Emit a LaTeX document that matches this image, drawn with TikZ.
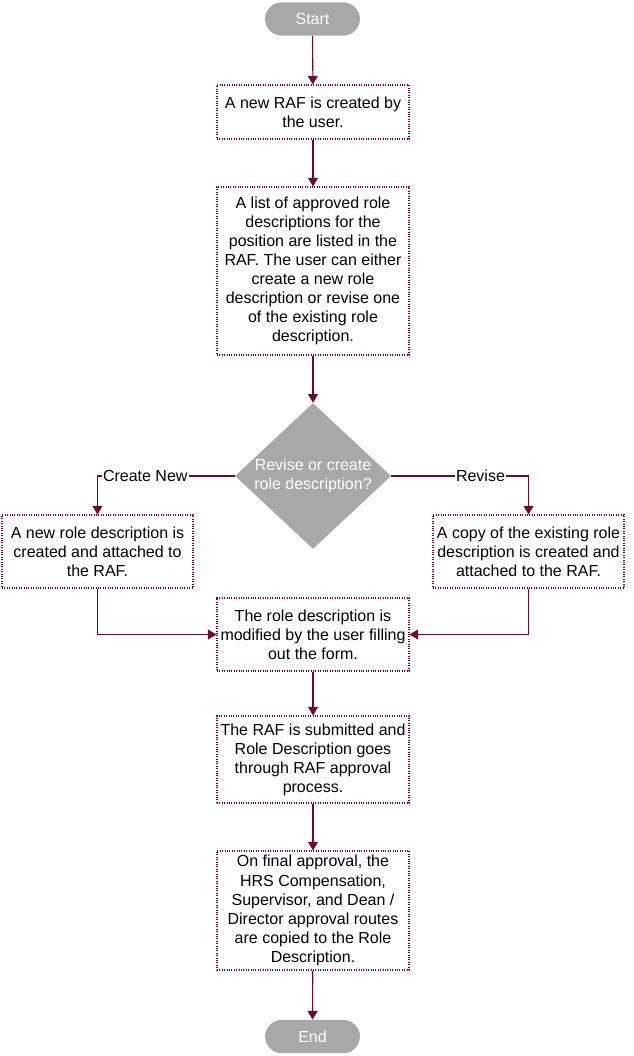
\documentclass[tikz,border=0pt]{standalone}
\usepackage{fontspec}
\setmainfont{Liberation Sans}
\usetikzlibrary{shapes.geometric,arrows.meta}
\definecolor{rafline}{RGB}{110,10,40}
\definecolor{rafgray}{RGB}{168,168,168}
\tikzset{
    terminal/.style={rectangle, rounded corners=12.75pt, fill=rafgray, text=white,
        minimum width=71.25pt, minimum height=25pt, inner sep=0pt},
    process/.style={rectangle, draw=rafline, densely dotted, line width=0.8pt,
        align=center, minimum width=144pt, inner sep=0pt, text=black},
    decision/.style={diamond, fill=rafgray, text=white, align=center,
        minimum width=117pt, minimum height=109.5pt, inner sep=0pt},
    link/.style={draw=rafline, line width=0.8pt, -{Triangle[width=7.5pt,length=6.5pt]}},
    linklabel/.style={fill=white, inner sep=1pt, text=black}
}
\begin{document}
\begin{tikzpicture}[x=0.75pt, y=-0.75pt, font=\fontsize{12}{14.3}\selectfont]
\useasboundingbox (0,0) rectangle (633,1056);

\node[terminal] (start) at (312.5,19) {Start};
\node[process, minimum height=40.5pt] (create) at (313,112)
    {A new RAF is created by\\the user.};
\node[process, minimum height=126pt] (list) at (313,271)
    {A list of approved role\\descriptions for the\\position are listed in the\\RAF. The user can either\\create a new role\\description or revise one\\of the existing role\\description.};
\node[decision] (choice) at (313,476)
    {\makebox[0pt]{Revise or create}\\\makebox[0pt]{role description?}};
\node[process, minimum width=143.25pt, minimum height=54.75pt] (newrole) at (97.5,551.5)
    {A new role description is\\created and attached to\\the RAF.};
\node[process, minimum width=143.25pt, minimum height=54.75pt] (copyrole) at (528.5,551.5)
    {A copy of the existing role\\description is created and\\attached to the RAF.};
\node[process, minimum height=54.75pt] (modify) at (313,634.5)
    {The role description is\\modified by the user filling\\out the form.};
\node[process, minimum height=65.25pt] (submit) at (313,759.5)
    {The RAF is submitted and\\Role Description goes\\through RAF approval\\process.};
\node[process, minimum height=89.25pt] (approve) at (313,910.5)
    {On final approval, the\\HRS Compensation,\\Supervisor, and Dean /\\Director approval routes\\are copied to the Role\\Description.};
\node[terminal] (end) at (312.5,1036.5) {End};

\draw[link] (start) -- (create);
\draw[link] (create) -- (list);
\draw[link] (list) -- (choice);
\draw[link] (choice.west) -| node[linklabel, pos=0.326] (createnew) {Create New} (newrole.north);
\draw[link] (choice.east) -| node[linklabel, pos=0.325] (revise) {Revise} (copyrole.north);
\draw[link] (newrole.south) |- (modify.west);
\draw[link] (copyrole.south) |- (modify.east);
\draw[link] (modify) -- (submit);
\draw[link] (submit) -- (approve);
\draw[link] (approve) -- (end);
\end{tikzpicture}
\end{document}
